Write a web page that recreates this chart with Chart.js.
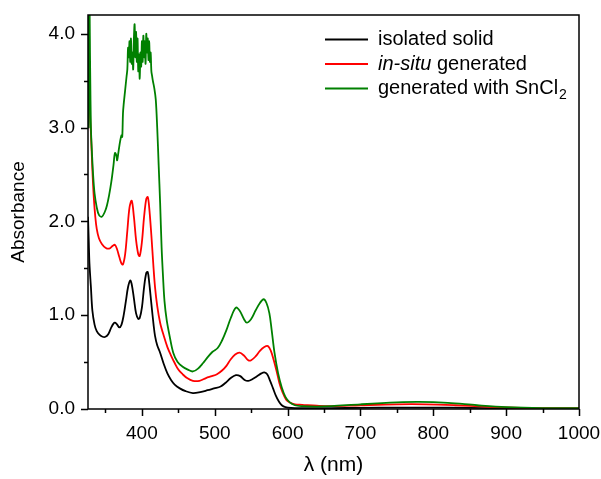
<!DOCTYPE html>
<html>
<head>
<meta charset="utf-8">
<script src="https://cdn.jsdelivr.net/npm/chart.js@4"></script>
<style>
  body { margin: 0; background: #fff; }
</style>
</head>
<body>
<canvas id="spectrum" width="601" height="479"></canvas>
<script>
// 系列名稱與顏色
const seriesNames = ["isolated solid", "in-situ generated", "generated with SnCl2"];
const seriesColors = ["#000000", "#ff0000", "#008000"];

// isolated solid
const solidNm = [326, 327, 328, 330, 332, 335, 338, 342, 346, 350, 354, 358, 361, 363, 366, 369, 372, 375, 378, 381, 384, 386, 389, 392, 395, 397, 400, 403, 406, 408, 410, 413, 416, 418, 421, 425, 430, 435, 440, 445, 452, 460, 470, 480, 490, 499, 508, 515, 522, 529, 535, 541, 546, 552, 558, 564, 568, 572, 576, 580, 584, 588, 592, 597, 605, 620, 660, 700, 750, 800, 850, 900, 950, 1000];
const solidAbs = [2.05, 1.8, 1.55, 1.3, 1.05, 0.9, 0.83, 0.79, 0.77, 0.77, 0.8, 0.87, 0.91, 0.92, 0.9, 0.87, 0.9, 1.0, 1.15, 1.3, 1.37, 1.33, 1.18, 1.02, 0.96, 0.97, 1.08, 1.3, 1.45, 1.46, 1.35, 1.12, 0.9, 0.78, 0.68, 0.6, 0.48, 0.38, 0.31, 0.26, 0.22, 0.19, 0.17, 0.18, 0.2, 0.22, 0.24, 0.28, 0.33, 0.36, 0.35, 0.31, 0.3, 0.32, 0.35, 0.38, 0.39, 0.37, 0.3, 0.22, 0.14, 0.08, 0.04, 0.02, 0.012, 0.01, 0.01, 0.012, 0.015, 0.015, 0.012, 0.008, 0.005, 0.004];

// in-situ generated
const insituNm = [326, 327, 328, 329, 330, 332, 334, 336, 338, 341, 345, 350, 355, 360, 363, 366, 369, 372, 374, 377, 380, 383, 386, 389, 392, 395, 397, 400, 403, 406, 408, 410, 413, 416, 418, 421, 425, 430, 435, 440, 445, 450, 456, 462, 470, 479, 488, 496, 503, 510, 516, 522, 528, 534, 540, 546, 550, 556, 562, 568, 573, 577, 581, 585, 589, 593, 598, 603, 610, 620, 640, 660, 700, 750, 790, 830, 870, 920, 960, 1000];
const insituAbs = [3.9, 3.5, 3.6, 3.1, 2.95, 2.55, 2.25, 2.05, 1.92, 1.82, 1.76, 1.72, 1.71, 1.74, 1.75, 1.7, 1.62, 1.55, 1.54, 1.65, 1.9, 2.15, 2.22, 2.05, 1.8, 1.65, 1.63, 1.78, 2.05, 2.24, 2.26, 2.15, 1.85, 1.5, 1.3, 1.1, 0.92, 0.78, 0.66, 0.57, 0.49, 0.42, 0.37, 0.33, 0.3, 0.3, 0.33, 0.35, 0.37, 0.41, 0.46, 0.53, 0.58, 0.6, 0.57, 0.52, 0.52, 0.56, 0.62, 0.66, 0.67, 0.62, 0.52, 0.4, 0.27, 0.18, 0.1, 0.07, 0.05, 0.045, 0.035, 0.03, 0.04, 0.05, 0.05, 0.04, 0.025, 0.012, 0.01, 0.01];

// generated with SnCl2
const sncl2Nm = [326, 327, 328, 329, 330, 331, 333, 335, 338, 341, 345, 349, 352, 355, 358, 361, 363, 365, 366, 368, 370, 372, 373, 374, 375, 377, 379, 380, 381, 382, 383, 384, 385, 386, 387, 388, 389, 390, 391, 392, 393, 394, 395, 396, 397, 398, 399, 400, 401, 402, 403, 404, 405, 406, 407, 408, 409, 410, 411, 412, 413, 414, 415, 417, 419, 421, 423, 425, 427, 429, 431, 434, 438, 443, 449, 456, 463, 470, 477, 484, 490, 497, 504, 510, 516, 522, 529, 534, 540, 544, 550, 556, 562, 567, 571, 575, 578, 582, 587, 592, 597, 603, 610, 620, 640, 660, 700, 750, 780, 820, 860, 900, 950, 1000];
const sncl2Abs = [4.4, 3.0, 4.3, 3.6, 3.0, 2.8, 2.5, 2.3, 2.15, 2.07, 2.05, 2.1, 2.17, 2.28, 2.42, 2.6, 2.73, 2.7, 2.65, 2.75, 2.85, 2.92, 2.9, 3.15, 3.25, 3.4, 3.55, 3.62, 3.85, 3.75, 3.92, 3.7, 3.95, 3.68, 3.8, 3.62, 3.95, 4.1, 3.75, 4.02, 3.7, 3.95, 3.6, 3.78, 3.52, 3.8, 3.65, 3.92, 3.7, 3.98, 3.75, 3.92, 3.68, 4.0, 3.8, 3.95, 3.72, 3.92, 3.7, 3.8, 3.6, 3.55, 3.5, 3.42, 3.3, 3.0, 2.6, 2.2, 1.73, 1.41, 1.15, 0.95, 0.78, 0.6, 0.5, 0.45, 0.42, 0.4, 0.43, 0.49, 0.55, 0.61, 0.65, 0.73, 0.84, 0.97, 1.08, 1.05, 0.96, 0.92, 0.96, 1.05, 1.13, 1.17, 1.13, 1.02, 0.85, 0.6, 0.38, 0.23, 0.13, 0.07, 0.04, 0.03, 0.025, 0.03, 0.05, 0.07, 0.075, 0.065, 0.04, 0.02, 0.01, 0.01];

// 刻度
const xMajorTicks = [400, 500, 600, 700, 800, 900, 1000];
const xMinorTicks = [350, 450, 550, 650, 750, 850, 950];
const yMajorTicks = [0, 1, 2, 3, 4];
const yMinorTicks = [0.5, 1.5, 2.5, 3.5];

const FONT = "'Liberation Sans', Arial, sans-serif";

function toPoints(xs, ys) {
    return xs.map((x, i) => ({ x: x, y: ys[i] }));
}

// 外框、刻度線與圖例
const framePlugin = {
    id: "frame",
    afterDatasetsDraw(chart) {
        const ctx = chart.ctx;
        const { left, right, top, bottom } = chart.chartArea;
        const xs = chart.scales.x;
        const ys = chart.scales.y;
        ctx.save();
        ctx.strokeStyle = "#000";
        ctx.lineWidth = 1.5;
        ctx.strokeRect(left, top, right - left, bottom - top);

        ctx.beginPath();
        xMajorTicks.forEach(v => {
            const px = Math.round(xs.getPixelForValue(v)) + 0.5;
            ctx.moveTo(px, bottom); ctx.lineTo(px, bottom + 7);
        });
        xMinorTicks.forEach(v => {
            const px = Math.round(xs.getPixelForValue(v)) + 0.5;
            ctx.moveTo(px, bottom); ctx.lineTo(px, bottom + 4);
        });
        yMajorTicks.forEach(v => {
            const py = Math.round(ys.getPixelForValue(v)) + 0.5;
            ctx.moveTo(left, py); ctx.lineTo(left - 7, py);
        });
        yMinorTicks.forEach(v => {
            const py = Math.round(ys.getPixelForValue(v)) + 0.5;
            ctx.moveTo(left, py); ctx.lineTo(left - 4, py);
        });
        ctx.stroke();

        // 圖例
        const rows = [
            [{ t: "isolated solid" }],
            [{ t: "in-situ", italic: true }, { t: " generated" }],
            [{ t: "generated with SnCl" }, { t: "2", sub: true }],
        ];
        ctx.textBaseline = "middle";
        ctx.textAlign = "left";
        rows.forEach((parts, i) => {
            const y = 39.5 + i * 24.5;
            ctx.strokeStyle = seriesColors[i];
            ctx.lineWidth = 2;
            ctx.beginPath();
            ctx.moveTo(325, y); ctx.lineTo(368, y);
            ctx.stroke();
            let x = 378;
            ctx.fillStyle = "#000";
            parts.forEach(p => {
                if (p.sub) {
                    ctx.font = "14px " + FONT;
                    ctx.fillText(p.t, x + 1, y + 7);
                    x += ctx.measureText(p.t).width;
                } else {
                    ctx.font = (p.italic ? "italic " : "") + "20px " + FONT;
                    ctx.fillText(p.t, x, y);
                    x += ctx.measureText(p.t).width;
                }
            });
        });
        ctx.restore();
    }
};

const ctx = document.getElementById("spectrum").getContext("2d");
new Chart(ctx, {
    type: "line",
    data: {
        datasets: [
            { label: seriesNames[0], data: toPoints(solidNm, solidAbs) },
            { label: seriesNames[1], data: toPoints(insituNm, insituAbs) },
            { label: seriesNames[2], data: toPoints(sncl2Nm, sncl2Abs) },
        ].map((d, i) => Object.assign(d, {
            borderColor: seriesColors[i],
            borderWidth: 1.8,
            pointRadius: 0,
            fill: false,
            tension: 0.35,
        })).reverse(),
    },
    options: {
        responsive: false,
        animation: false,
        devicePixelRatio: 1,
        layout: { padding: { left: 0, top: 15, right: 22, bottom: 0 } },
        plugins: {
            legend: { display: false },
            tooltip: { enabled: false },
        },
        scales: {
            x: {
                type: "linear",
                min: 326,
                max: 1000,
                grid: { display: false, drawTicks: false },
                border: { display: false },
                afterBuildTicks: scale => { scale.ticks = xMajorTicks.map(v => ({ value: v })); },
                afterFit: scale => { scale.height = 70; scale.paddingLeft = 0; scale.paddingRight = 0; },
                ticks: {
                    padding: 13,
                    color: "#000",
                    font: { family: FONT, size: 19 },
                    maxRotation: 0,
                    callback: v => String(v),
                },
                title: {
                    display: true,
                    text: "λ (nm)",
                    color: "#000",
                    font: { family: FONT, size: 21 },
                    padding: { top: 0, bottom: 1 },
                },
            },
            y: {
                min: 0,
                max: 4.2,
                grid: { display: false, drawTicks: false },
                border: { display: false },
                afterBuildTicks: scale => { scale.ticks = yMajorTicks.map(v => ({ value: v })); },
                afterFit: scale => { scale.width = 88; scale.paddingTop = 0; scale.paddingBottom = 0; },
                ticks: {
                    padding: 13,
                    color: "#000",
                    font: { family: FONT, size: 19 },
                    callback: v => v.toFixed(1),
                },
                title: {
                    display: true,
                    text: "Absorbance",
                    color: "#000",
                    font: { family: FONT, size: 19 },
                    padding: { top: 7, bottom: 0 },
                },
            },
        },
    },
    plugins: [framePlugin],
});
</script>
</body>
</html>
